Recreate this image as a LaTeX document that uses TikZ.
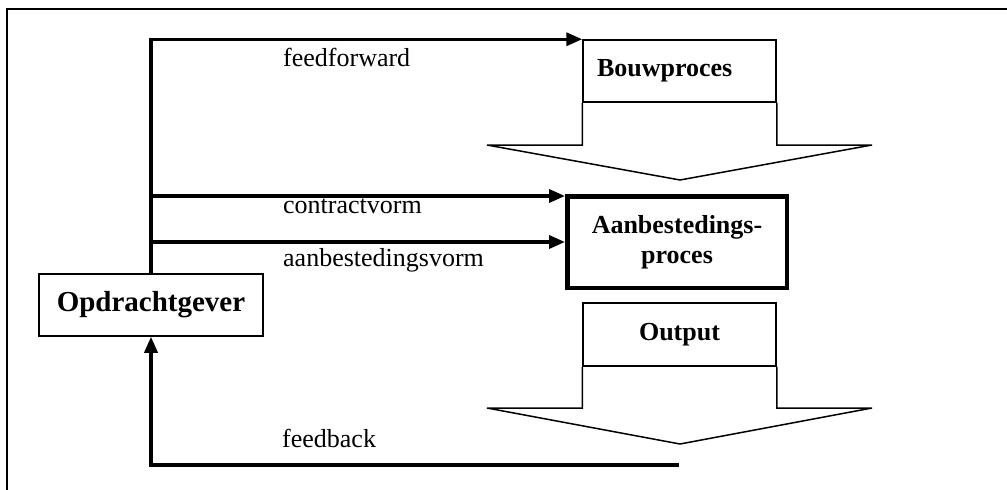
\documentclass[tikz,border=0pt]{standalone}
\usepackage{fontspec}
\setmainfont{Liberation Serif}
\usetikzlibrary{arrows.meta}

\tikzset{pbox/.style = {shape = rectangle,
                        draw,
                        line width = 1.5pt,
                        inner sep = 0pt,
                        font = \fontsize{26}{30}\selectfont\bfseries},
         lbl/.style = {anchor = base west,
                       inner sep = 0pt,
                       font = \fontsize{26}{30}\selectfont},
         flow/.style = {line width = 3.5pt,
                        -{Triangle[length = 16pt, width = 13pt]}},
         bigarrow/.style = {line width = 1.5pt}}

\begin{document}
\begin{tikzpicture}[x=1pt,y=-1pt]
	\useasboundingbox (0,0) rectangle (1007,490);
	% frame
	\draw[line width=2pt] (1007,9) -- (7,9) -- (7,490);
	% boxes
	\node[pbox, font=\fontsize{29}{33}\selectfont\bfseries,
	      minimum width=224pt, minimum height=62pt] (opdr) at (151,305) {Opdrachtgever};
	\node[pbox, inner xsep=14pt, text width=165pt, align=left,
	      minimum height=62pt] (bouw) at (679.5,71) {Bouwproces};
	\node[pbox, line width=4.5pt, align=center,
	      minimum width=219.5pt, minimum height=91.5pt] (aanb) at (677,242) {Aanbestedings-\\proces};
	\node[pbox, minimum width=193pt, minimum height=63pt] (outp) at (679.5,334.5) {Output};
	% block arrows
	\draw[bigarrow] (bouw.south west) |- (487,145) -- (680,180) -- (872,145) -| (bouw.south east);
	\draw[bigarrow] (outp.south west) |- (487,408) -- (680,444) -- (872,408) -| (outp.south east);
	% flows
	\coordinate (cv) at (151,196);
	\coordinate (av) at (151,242);
	\coordinate (fb) at (679,465);
	\draw[flow] (opdr.north) |- (bouw.north west);
	\draw[flow] (cv) -- (cv -| aanb.west);
	\draw[flow] (av) -- (av -| aanb.west);
	\draw[flow] (fb) -| (opdr.south);
	% labels
	\node[lbl] (ffl) at (283,66) {feedforward};
	\node[lbl] (cvl) at (283,213) {contractvorm};
	\node[lbl] (avl) at (283,266) {aanbestedingsvorm};
	\node[lbl] (fbl) at (282,447) {feedback};
\end{tikzpicture}
\end{document}
